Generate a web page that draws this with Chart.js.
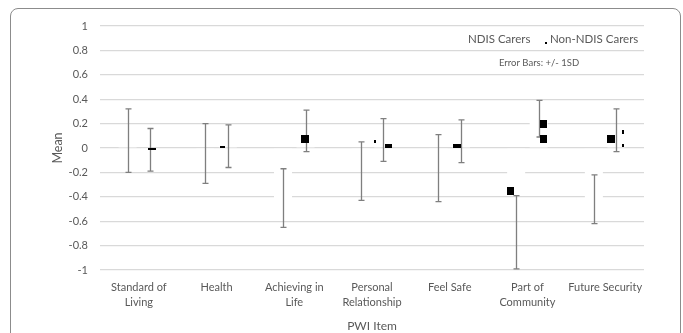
<!DOCTYPE html>
<html>
<head>
<meta charset="utf-8">
<script src="https://cdn.jsdelivr.net/npm/chart.js@4/dist/chart.umd.min.js"></script>
<style>
  html, body { margin: 0; padding: 0; background: #fff; overflow: hidden; }
  #wrap { position: relative; width: 683px; height: 333px; overflow: hidden; }
  #frame { position: absolute; left: 10px; top: 8px; width: 671px; height: 360px;
           border: 1px solid #8c8c8c; border-radius: 8px; box-sizing: border-box; }
  canvas { position: absolute; left: 0; top: 0; }
</style>
</head>
<body>
<div id="wrap">
  <div id="frame"></div>
  <canvas id="c" width="683" height="333"></canvas>
</div>
<script>
// ---- data ----
const categories = [["Standard of", "Living"], "Health", ["Achieving in", "Life"], ["Personal", "Relationship"], "Feel Safe", ["Part of", "Community"], "Future Security"];
const seriesNames = ["NDIS Carers", "Non-NDIS Carers"];
const ndisMean = [0.06, -0.05, -0.41, -0.19, -0.16, -0.35, -0.42];
const ndisErrLow = [-0.20, -0.29, -0.65, -0.43, -0.44, -0.99, -0.62];
const ndisErrHigh = [0.32, 0.20, -0.17, 0.05, 0.11, -0.39, -0.22];
const nonNdisMean = [-0.02, 0.02, 0.14, 0.06, 0.06, 0.24, 0.15];
const nonNdisErrLow = [-0.19, -0.16, -0.03, -0.11, -0.12, 0.09, -0.03];
const nonNdisErrHigh = [0.16, 0.19, 0.31, 0.24, 0.23, 0.39, 0.32];
// black marks visible in the picture
const ndisMarks = [null, null, null, null, null, -0.35, null];
const nonNdisMarks = [-0.01, 0.01, 0.07, 0.02, 0.02, 0.20, 0.07];
const nonNdisMarks2 = [null, null, null, null, null, 0.07, null];
const nonNdisTicks = [null, null, null, 0.05, null, null, 0.13];
const nonNdisTicks2 = [null, null, null, null, null, null, 0.02];
const yTicks = [1, 0.8, 0.6, 0.4, 0.2, 0, -0.2, -0.4, -0.6, -0.8, -1];
const legendNote = "Error Bars: +/- 1SD";
const xTitle = "PWI Item";
const yTitle = "Mean";

// ---- styles ----
const FONT = "Lato, 'Liberation Sans', sans-serif";
const TEXT = "#595959";
const GRID = "#d9d9d9";
const ERR = "#7f7f7f";
// mark sizes / offsets (px) per category
const nonMarkStyle = [
  {w: 8, h: 2, dx: 2}, {w: 5, h: 2, dx: -5.5}, {w: 8, h: 8, dx: -1}, {w: 7, h: 4, dx: 5.5},
  {w: 8, h: 4, dx: -4}, {w: 7, h: 8, dx: 4.5}, {w: 8, h: 8, dx: -5}
];
const ndisMarkStyle = {w: 7, h: 8, dx: -5.5};
const tickStyle = [null, null, null, {w: 2, h: 3, dx: -8}, null, null, {w: 2, h: 4, dx: 7}];

const errorBarPlugin = {
  id: 'errorBars',
  afterDatasetsDraw(chart) {
    const ctx = chart.ctx;
    const y = chart.scales.y;
    const lows = [ndisErrLow, nonNdisErrLow];
    const highs = [ndisErrHigh, nonNdisErrHigh];
    ctx.save();
    for (let d = 0; d < 2; d++) {
      const meta = chart.getDatasetMeta(d);
      meta.data.forEach((bar, i) => {
        const x = Math.round(bar.x) + 0.5;
        const y1 = y.getPixelForValue(highs[d][i]);
        const y2 = y.getPixelForValue(lows[d][i]);
        ctx.strokeStyle = ERR;
        ctx.lineWidth = 1.3;
        ctx.beginPath();
        ctx.moveTo(x, y1); ctx.lineTo(x, y2);
        ctx.moveTo(x - 3, y1); ctx.lineTo(x + 3, y1);
        ctx.moveTo(x - 3, y2); ctx.lineTo(x + 3, y2);
        ctx.stroke();
      });
    }
    // black marks
    ctx.fillStyle = "#000";
    const m0 = chart.getDatasetMeta(0), m1 = chart.getDatasetMeta(1);
    const rect = (cx, v, s) => {
      const cy = y.getPixelForValue(v);
      ctx.fillRect(Math.round(cx + s.dx - s.w / 2), Math.round(cy - s.h / 2), s.w, s.h);
    };
    ndisMarks.forEach((v, i) => { if (v !== null) rect(m0.data[i].x, v, ndisMarkStyle); });
    nonNdisMarks.forEach((v, i) => { if (v !== null) rect(m1.data[i].x, v, nonMarkStyle[i]); });
    nonNdisMarks2.forEach((v, i) => { if (v !== null) rect(m1.data[i].x, v, nonMarkStyle[i]); });
    nonNdisTicks.forEach((v, i) => { if (v !== null) rect(m1.data[i].x, v, tickStyle[i]); });
    nonNdisTicks2.forEach((v, i) => { if (v !== null) rect(m1.data[i].x, v, {w: 2, h: 3, dx: tickStyle[i].dx}); });

    // legend
    ctx.fillStyle = TEXT;
    ctx.textBaseline = "middle";
    ctx.textAlign = "left";
    ctx.font = "11.5px " + FONT;
    ctx.fillText(seriesNames[0], 468, 39);
    ctx.fillText(seriesNames[1], 550, 39);
    ctx.fillStyle = "#000";
    ctx.fillRect(545, 42, 2, 2);
    ctx.fillStyle = TEXT;
    ctx.font = "9.5px " + FONT;
    ctx.fillText(legendNote, 499, 63);
    ctx.restore();
  }
};

new Chart(document.getElementById('c'), {
  type: 'bar',
  data: {
    labels: categories,
    datasets: [
      { label: seriesNames[0], data: ndisMean, backgroundColor: "#ffffff", borderWidth: 0,
        categoryPercentage: 0.58, barPercentage: 0.8 },
      { label: seriesNames[1], data: nonNdisMean, backgroundColor: "#ffffff", borderWidth: 0,
        categoryPercentage: 0.58, barPercentage: 0.8 }
    ]
  },
  options: {
    responsive: false,
    animation: false,
    devicePixelRatio: 1,
    layout: { padding: { left: 0, right: 39, top: 26, bottom: 0 } },
    plugins: { legend: { display: false }, tooltip: { enabled: false } },
    scales: {
      x: {
        grid: { display: false, drawTicks: false },
        border: { display: false },
        ticks: { color: TEXT, font: { family: FONT, size: 11, lineHeight: 1.35 }, padding: 10, maxRotation: 0, autoSkip: false },
        title: { display: true, text: xTitle, color: TEXT, font: { family: FONT, size: 12 }, padding: { top: 0, bottom: 0 } },
        afterFit: (s) => { s.height = 63; }
      },
      y: {
        min: -1, max: 1,
        afterBuildTicks: (s) => { s.ticks = yTicks.map(v => ({ value: v })); },
        grid: { color: GRID, lineWidth: 1.3, drawTicks: false },
        border: { display: false },
        ticks: { color: TEXT, font: { family: FONT, size: 11 }, padding: 12,
                 callback: (v) => String(Number(v.toFixed(1))) },
        title: { display: true, text: yTitle, color: TEXT, font: { family: FONT, size: 12.5 }, padding: { top: 50, bottom: 0 } },
        afterFit: (s) => { s.width = 100; }
      }
    }
  },
  plugins: [errorBarPlugin]
});
</script>
</body>
</html>
